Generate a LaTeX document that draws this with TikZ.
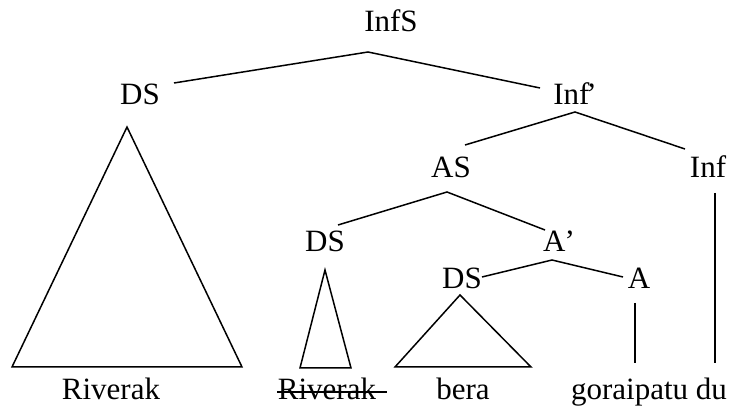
\documentclass[tikz,border=0pt]{standalone}
\usepackage{fontspec}
\setmainfont{Liberation Serif}
\begin{document}
\begin{tikzpicture}[x=1pt,y=-1pt,
  lbl/.style={anchor=base,inner sep=0pt,font=\fontsize{31}{31}\selectfont},
  br/.style={line width=1.5pt,line join=miter}]
\useasboundingbox (0,0) rectangle (734,411);
% labels
\node[lbl] (infs) at (391,32) {InfS};
\node[lbl] (ds1) at (140,105) {DS};
\node[lbl] (infbar) at (575,105) {Inf\kern-3pt’};
\node[lbl] (as) at (451,178) {AS};
\node[lbl] (inf) at (708,178) {Inf};
\node[lbl] (ds2) at (325,252) {DS};
\node[lbl] (abar) at (559,252) {A\kern-1pt’};
\node[lbl] (ds3) at (462,289) {DS};
\node[lbl] (a) at (639,289) {A};
\node[lbl] (riv1) at (111,400) {Riverak};
\node[lbl] (riv2) at (327,400) {Riverak};
\node[lbl] (bera) at (463,400) {bera};
\node[lbl] (gor) at (649,400) {goraipatu du};
% branch points
\coordinate (pInfS) at (368,52);
\coordinate (eDS1) at (174,83);
\coordinate (eInfbar) at (540,88);
\coordinate (pInfbar) at (575,112);
\coordinate (eAS) at (465,145);
\coordinate (eInf) at (685,149);
\coordinate (pAS) at (447,192);
\coordinate (eDS2) at (338,225);
\coordinate (eAbar) at (545,230);
\coordinate (pAbar) at (552,260);
\coordinate (eDS3) at (482,277);
\coordinate (eA) at (623,277);
\coordinate (aTop) at (635,303);
\coordinate (aBot) at (635,363);
\coordinate (infTop) at (715,193);
\coordinate (infBot) at (715,363);
\coordinate (t1a) at (127,127);
\coordinate (t1l) at (12,367);
\coordinate (t1r) at (242,367);
\coordinate (t2a) at (325,270);
\coordinate (t2l) at (300,368);
\coordinate (t2r) at (351,368);
\coordinate (t3a) at (460,295);
\coordinate (t3l) at (395,367);
\coordinate (t3r) at (531,367);
\coordinate (sL) at (277,392);
\coordinate (sR) at (387,392);
% branches
\draw[br] (eDS1) -- (pInfS) -- (eInfbar);
\draw[br] (eAS) -- (pInfbar) -- (eInf);
\draw[br] (eDS2) -- (pAS) -- (eAbar);
\draw[br] (eDS3) -- (pAbar) -- (eA);
\draw[br] (aTop) -- (aBot);
\draw[br] (infTop) -- (infBot);
\draw[br] (t1a) -- (t1l) -- (t1r) -- cycle;
\draw[br] (t2a) -- (t2l) -- (t2r) -- cycle;
\draw[br] (t3a) -- (t3l) -- (t3r) -- cycle;
\draw[line width=1.5pt] (sL) -- (sR);
\end{tikzpicture}
\end{document}
